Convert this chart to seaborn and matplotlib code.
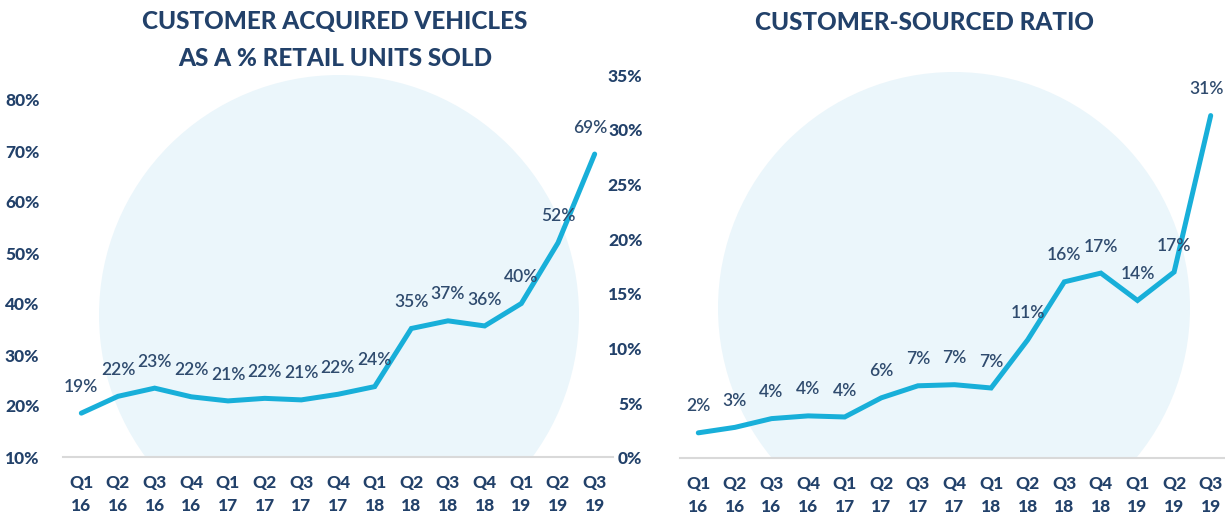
import matplotlib
matplotlib.use("Agg")
import matplotlib.pyplot as plt
from matplotlib.patches import Circle
import seaborn as sns

# Data
quarters = ["Q1\n16", "Q2\n16", "Q3\n16", "Q4\n16",
            "Q1\n17", "Q2\n17", "Q3\n17", "Q4\n17",
            "Q1\n18", "Q2\n18", "Q3\n18", "Q4\n18",
            "Q1\n19", "Q2\n19", "Q3\n19"]

acquired_pct = [18.6, 21.9, 23.5, 21.8, 21.0, 21.5, 21.2, 22.3,
                23.8, 35.2, 36.7, 35.7, 40.1, 52.0, 69.4]
acquired_labels = ["19%", "22%", "23%", "22%", "21%", "22%", "21%", "22%",
                   "24%", "35%", "37%", "36%", "40%", "52%", "69%"]

sourced_pct = [2.3, 2.8, 3.6, 3.85, 3.75, 5.5, 6.6, 6.7,
               6.4, 10.8, 16.1, 16.9, 14.4, 17.0, 31.3]
sourced_labels = ["2%", "3%", "4%", "4%", "4%", "6%", "7%", "7%",
                  "7%", "11%", "16%", "17%", "14%", "17%", "31%"]

acquired_yticks = [10, 20, 30, 40, 50, 60, 70, 80]
sourced_yticks = [0, 5, 10, 15, 20, 25, 30, 35]

LINE = "#18AFD9"
NAVY = "#22416A"
LABEL = "#2F4B6E"
CIRCLE = "#EBF6FB"

sns.set_theme(style="white")
plt.rcParams["font.family"] = ["Lato", "DejaVu Sans"]

W, H = 1225, 518
fig = plt.figure(figsize=(W / 100, H / 100), dpi=100)


def add_panel(left, right, bottom, top, ymin, ymax, values, labels,
              yticks, title, title_y, title_x, circle_xy, circle_r, ypad):
    ax = fig.add_axes([left / W, (H - bottom) / H,
                       (right - left) / W, (bottom - top) / H])
    ax.set_facecolor("none")

    # background circle, in pixel units, clipped to the axes
    circ = Circle((circle_xy[0] / 100, (H - circle_xy[1]) / 100), circle_r / 100,
                  transform=fig.dpi_scale_trans, facecolor=CIRCLE,
                  edgecolor="none", zorder=0)
    ax.add_patch(circ)

    x = list(range(len(values)))
    sns.lineplot(x=x, y=values, ax=ax, color=LINE, linewidth=3.6,
                 solid_joinstyle="miter", zorder=3)

    for xi, v, lab in zip(x, values, labels):
        # keep the last label inside the figure edge
        dx = -3 if xi == len(values) - 1 else 0
        ax.annotate(lab, (xi, v), xytext=(dx, 19), textcoords="offset points",
                    ha="center", va="center", fontsize=12.5, color=LABEL,
                    fontweight="semibold", zorder=4)

    ax.set_xlim(-0.5, len(values) - 0.5)
    ax.set_ylim(ymin, ymax)
    ax.set_xticks(x)
    ax.set_xticklabels(quarters, fontsize=12.5, fontweight="black",
                       color=NAVY, linespacing=1.5)
    ax.set_xticks([i - 0.5 for i in range(len(values) + 1)], minor=True)
    ax.tick_params(axis="x", which="major", length=0, pad=13)
    ax.tick_params(axis="x", which="minor", length=6, width=1.2,
                   color="#D9D9D9", direction="out")
    ax.set_yticks(yticks)
    ax.set_yticklabels([f"{t}%" for t in yticks], fontsize=12.5,
                       fontweight="black", color=NAVY)
    ax.tick_params(axis="y", length=0, pad=ypad)

    for s in ["top", "right", "left"]:
        ax.spines[s].set_visible(False)
    ax.spines["bottom"].set_color("#D9D9D9")
    ax.spines["bottom"].set_linewidth(1.5)
    ax.grid(False)
    ax.set_xlabel("")
    ax.set_ylabel("")

    for i, line in enumerate(title):
        fig.text(title_x / W, 1 - title_y[i] / H, line, ha="center",
                 va="center", fontsize=17.5, fontweight="black", color=NAVY)
    return ax


# left panel: 10% at y=457 px, 51 px per 10 points
add_panel(63, 613, 457, 60, 10, 10 + (457 - 60) / 5.1,
          acquired_pct, acquired_labels, acquired_yticks,
          ["CUSTOMER ACQUIRED VEHICLES", "AS A % RETAIL UNITS SOLD"],
          [21, 58], 335, (339, 315), 240, 17)

# right panel: 0% at y=458 px, 10.94 px per point
add_panel(680, 1229, 458, 60, 0, (458 - 60) / 10.94,
          sourced_pct, sourced_labels, sourced_yticks,
          ["CUSTOMER-SOURCED RATIO"], [22], 925, (954, 308), 236, 27)

fig.savefig("out.png", dpi=100)
